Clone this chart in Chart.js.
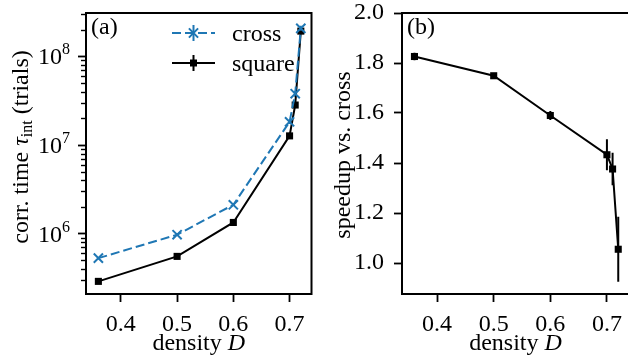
<!DOCTYPE html>
<html lang="en">
<head>
<meta charset="UTF-8">
<title>Correlation time and speedup</title>
<script src="https://cdn.jsdelivr.net/npm/chart.js"></script>
<style>
  html, body { margin: 0; padding: 0; background: #fff; overflow: hidden; }
  #wrap { position: relative; width: 628px; height: 358px; overflow: hidden; }
  canvas { position: absolute; top: 0; }
  #left { left: 0; }
  #right { left: 320px; }
</style>
</head>
<body>
<div id="wrap">
  <canvas id="left" width="320" height="358"></canvas>
  <canvas id="right" width="320" height="358"></canvas>
</div>
<script>
// data
const density = [0.36, 0.5, 0.6, 0.7, 0.71, 0.72];
const crossTau = [5.3e5, 9.75e5, 2.12e6, 1.83e7, 3.8e7, 2.07e8];
const crossErr = [1.5e4, 2.5e4, 6e4, 1.0e6, 3.0e6, 1.5e7];
const squareTau = [2.9e5, 5.55e5, 1.34e6, 1.27e7, 2.83e7, 1.93e8];
const squareErr = [5e3, 1e4, 3e4, 4e5, 1.5e6, 8e6];
const speedup = [1.826, 1.749, 1.590, 1.433, 1.376, 1.055];
const speedupErr = [0.015, 0.008, 0.018, 0.062, 0.065, 0.13];

const xTicks = [0.4, 0.5, 0.6, 0.7];
const logTicks = [1e6, 1e7, 1e8];
const speedTicks = [1.0, 1.2, 1.4, 1.6, 1.8, 2.0];

const BLUE = '#1f77b4';
const FONT = '"Liberation Serif", "DejaVu Serif", serif';
const FS = 24;

function pts(xs, ys) {
    return xs.map((x, i) => ({ x: x, y: ys[i] }));
}

// draws a sequence of text pieces starting at x (baseline y)
function drawPieces(ctx, pieces, x, y) {
    pieces.forEach(p => {
        ctx.font = p.font;
        ctx.fillText(p.t, x, y + (p.dy || 0));
        x += ctx.measureText(p.t).width;
    });
}
function piecesWidth(ctx, pieces) {
    let w = 0;
    pieces.forEach(p => { ctx.font = p.font; w += ctx.measureText(p.t).width; });
    return w;
}
const R = FS + 'px ' + FONT;
const I = 'italic ' + FS + 'px ' + FONT;
const S = '16px ' + FONT;

// error bars, frame, labels
function panelPlugin(opts) {
    return {
        id: 'panel',
        beforeDatasetsDraw(chart) {
            const ctx = chart.ctx;
            const xs = chart.scales.x, ys = chart.scales.y;
            ctx.save();
            ctx.lineWidth = 2;
            opts.errors.forEach(e => {
                ctx.strokeStyle = e.color;
                density.forEach((d, i) => {
                    const px = xs.getPixelForValue(d);
                    ctx.beginPath();
                    ctx.moveTo(px, ys.getPixelForValue(e.y[i] - e.err[i]));
                    ctx.lineTo(px, ys.getPixelForValue(e.y[i] + e.err[i]));
                    ctx.stroke();
                });
            });
            ctx.restore();
        },
        afterDraw(chart) {
            const ctx = chart.ctx;
            const a = chart.chartArea;
            const ys = chart.scales.y;
            ctx.save();
            // frame
            ctx.strokeStyle = '#000';
            ctx.lineWidth = 2;
            ctx.strokeRect(a.left, a.top, a.right - a.left, a.bottom - a.top);
            ctx.fillStyle = '#000';
            ctx.textBaseline = 'alphabetic';
            // panel letter
            ctx.font = R;
            ctx.textAlign = 'left';
            ctx.fillText(opts.letter, a.left + 5, a.top + 21);
            // x title
            const xt = [{ t: 'density ', font: R }, { t: 'D', font: I }];
            const cx = (a.left + a.right) / 2;
            drawPieces(ctx, xt, cx - piecesWidth(ctx, xt) / 2, 350);
            // y title
            ctx.save();
            ctx.translate(opts.yTitleX, opts.yTitleY);
            ctx.rotate(-Math.PI / 2);
            drawPieces(ctx, opts.yTitle, -piecesWidth(ctx, opts.yTitle) / 2, 0);
            ctx.restore();

            if (opts.log) {
                // minor ticks
                ctx.lineWidth = 1.4;
                for (let k = 5; k <= 8; k++) {
                    for (let m = 2; m <= 9; m++) {
                        const v = m * Math.pow(10, k);
                        if (v < ys.min || v > ys.max) continue;
                        const py = Math.round(ys.getPixelForValue(v)) + 0.5;
                        ctx.beginPath();
                        ctx.moveTo(a.left - 5, py);
                        ctx.lineTo(a.left, py);
                        ctx.stroke();
                    }
                }
                // decade labels 10^n
                logTicks.forEach(v => {
                    const py = ys.getPixelForValue(v);
                    const lab = [{ t: '10', font: R }, { t: String(Math.round(Math.log10(v))), font: S, dy: -10 }];
                    drawPieces(ctx, lab, a.left - 16 - piecesWidth(ctx, lab), py + 8);
                });
                // legend
                const lx0 = a.left + 86, lx1 = a.left + 129, lc = (lx0 + lx1) / 2;
                const rows = [
                    { y: a.top + 20, color: BLUE, dash: [9, 4], label: 'cross', mark: 'x' },
                    { y: a.top + 50, color: '#000', dash: [], label: 'square', mark: 's' }
                ];
                rows.forEach(r => {
                    ctx.strokeStyle = r.color;
                    ctx.fillStyle = r.color;
                    ctx.lineWidth = 2;
                    ctx.setLineDash(r.dash);
                    ctx.beginPath();
                    ctx.moveTo(lx0, r.y);
                    ctx.lineTo(lx1, r.y);
                    ctx.stroke();
                    ctx.setLineDash([]);
                    ctx.beginPath();
                    ctx.moveTo(lc, r.y - 8);
                    ctx.lineTo(lc, r.y + 8);
                    ctx.stroke();
                    if (r.mark === 's') {
                        ctx.fillRect(lc - 3.5, r.y - 3.5, 7, 7);
                    } else {
                        ctx.beginPath();
                        ctx.moveTo(lc - 4.6, r.y - 4.6); ctx.lineTo(lc + 4.6, r.y + 4.6);
                        ctx.moveTo(lc + 4.6, r.y - 4.6); ctx.lineTo(lc - 4.6, r.y + 4.6);
                        ctx.stroke();
                    }
                    ctx.fillStyle = '#000';
                    ctx.font = R;
                    ctx.fillText(r.label, a.left + 146, r.y + 8);
                });
            }
            ctx.restore();
        }
    };
}

// fixed axis boxes so both plot areas sit where the figure has them
function fixY(width) {
    return s => {
        s.width = width;
        s.paddingTop = 0;
        s.paddingBottom = 0;
    };
}
function fixX(s) {
    s.height = 64;
    s.paddingLeft = 0;
    s.paddingRight = 0;
}

function xScale() {
    return {
        type: 'linear',
        min: 0.338,
        max: 0.739,
        afterBuildTicks: s => { s.ticks = xTicks.map(v => ({ value: v })); },
        afterFit: fixX,
        border: { display: false },
        grid: { drawOnChartArea: false, drawTicks: true, tickLength: 8, tickWidth: 1.8, tickColor: '#000' },
        ticks: {
            autoSkip: false, maxRotation: 0, padding: 8, color: '#000',
            font: { family: FONT, size: FS },
            callback: v => v.toFixed(1)
        }
    };
}

const baseOptions = {
    responsive: false,
    animation: false,
    layout: { padding: { top: 13, right: 7, left: 0, bottom: 0 } },
    plugins: { legend: { display: false }, tooltip: { enabled: false } }
};

new Chart(document.getElementById('left'), {
    type: 'line',
    data: {
        datasets: [
            {
                label: 'cross',
                data: pts(density, crossTau),
                borderColor: BLUE,
                borderWidth: 2,
                borderDash: [9, 4],
                pointStyle: 'crossRot',
                pointRadius: 6.5,
                pointBorderWidth: 2,
                pointBorderColor: BLUE,
                pointBackgroundColor: BLUE,
                clip: false
            },
            {
                label: 'square',
                data: pts(density, squareTau),
                borderColor: '#000',
                borderWidth: 2,
                pointStyle: 'rect',
                pointRadius: 5,
                pointBorderWidth: 0,
                pointBackgroundColor: '#000',
                clip: false
            }
        ]
    },
    options: Object.assign({}, baseOptions, {
        scales: {
            x: xScale(),
            y: {
                type: 'logarithmic',
                min: Math.pow(10, 5.32),
                max: Math.pow(10, 8.49),
                afterBuildTicks: s => { s.ticks = logTicks.map(v => ({ value: v })); },
                afterFit: fixY(86),
                border: { display: false },
                grid: { drawOnChartArea: false, drawTicks: true, tickLength: 8, tickWidth: 1.8, tickColor: '#000' },
                ticks: { display: false }
            }
        }
    }),
    plugins: [panelPlugin({
        letter: '(a)',
        log: true,
        errors: [
            { y: crossTau, err: crossErr, color: BLUE },
            { y: squareTau, err: squareErr, color: '#000' }
        ],
        yTitleX: 28,
        yTitleY: 147,
        yTitle: [
            { t: 'corr. time ', font: R },
            { t: '\u03c4', font: I },
            { t: 'int', font: S, dy: 4 },
            { t: ' (trials)', font: R }
        ]
    })]
});

new Chart(document.getElementById('right'), {
    type: 'line',
    data: {
        datasets: [{
            label: 'speedup',
            data: pts(density, speedup),
            borderColor: '#000',
            borderWidth: 2,
            pointStyle: 'rect',
            pointRadius: 5,
            pointBorderWidth: 0,
            pointBackgroundColor: '#000',
            clip: false
        }]
    },
    options: Object.assign({}, baseOptions, {
        layout: { padding: { top: 13, right: 11, left: 0, bottom: 0 } },
        scales: {
            x: xScale(),
            y: {
                type: 'linear',
                min: 0.876,
                max: 2.0,
                afterBuildTicks: s => { s.ticks = speedTicks.map(v => ({ value: v })); },
                afterFit: fixY(82),
                border: { display: false },
                grid: { drawOnChartArea: false, drawTicks: true, tickLength: 8, tickWidth: 1.8, tickColor: '#000' },
                ticks: {
                    padding: 10, color: '#000',
                    font: { family: FONT, size: FS },
                    callback: v => v.toFixed(1)
                }
            }
        }
    }),
    plugins: [panelPlugin({
        letter: '(b)',
        log: false,
        errors: [{ y: speedup, err: speedupErr, color: '#000' }],
        yTitleX: 30,
        yTitleY: 155,
        yTitle: [{ t: 'speedup vs. cross', font: R }]
    })]
});
</script>
</body>
</html>
